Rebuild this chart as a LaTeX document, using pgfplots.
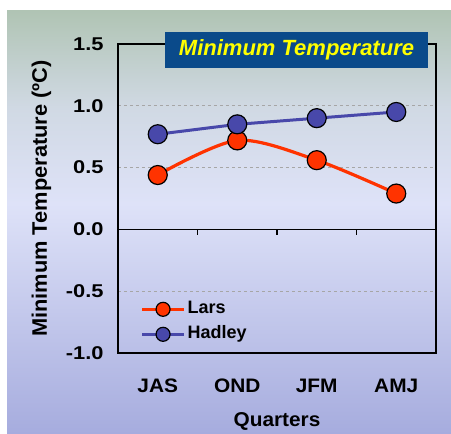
\documentclass[border=0pt]{standalone}
\usepackage{pgfplots}
\pgfplotsset{compat=1.18}
\usepackage{fontspec}
\setmainfont{Liberation Sans}
\newfontfamily\wideA[FakeStretch=1.18]{Liberation Sans}
\newfontfamily\wideB[FakeStretch=1.07]{Liberation Sans}
\newfontfamily\wideC[FakeStretch=1.04]{Liberation Sans}
\definecolor{bgtop}{RGB}{176,196,180}
\definecolor{bgmid}{RGB}{222,226,248}
\definecolor{bgbot}{RGB}{166,172,222}
\definecolor{larsred}{RGB}{255,51,0}
\definecolor{hadblue}{RGB}{72,72,170}
\definecolor{titlebg}{RGB}{10,74,138}
\definecolor{titleyel}{RGB}{255,255,0}
\newcommand{\ordo}{\char"BA\relax}
\newcommand{\yl}[1]{{\wideA\bfseries\fontsize{18.5}{20}\selectfont #1}}
\begin{document}
\begin{tikzpicture}[x=1pt,y=1pt]
\useasboundingbox (0,0) rectangle (451,434);
\shade[top color=bgtop, bottom color=bgmid, middle color=bgmid!70!bgtop] (7,230) rectangle (451,423);
\shade[top color=bgmid, bottom color=bgbot] (7,0) rectangle (451,230.2);
\begin{axis}[
  at={(118pt,81pt)}, anchor=south west,
  scale only axis, width=318pt, height=309pt,
  xmin=-0.5, xmax=3.5, ymin=-1, ymax=1.5,
  axis line style={black, line width=1.2pt},
  xtick={0,1,2,3}, xticklabels={JAS,OND,JFM,AMJ},
  ytick={-1,-0.5,0,0.5,1,1.5},
  yticklabels={\yl{-1.0},\yl{-0.5},\yl{0.0},\yl{0.5},\yl{1.0},\yl{1.5}},
  major tick length=0pt,
  ymajorgrids, grid style={gray!70, dashed, line width=0.6pt},
  yticklabel style={font=\wideA\bfseries\fontsize{18.5}{20}\selectfont, xshift=-11pt},
  xticklabel style={font=\wideB\bfseries\fontsize{19.5}{22}\selectfont, anchor=base, yshift=-40pt},
  /pgf/number format/assume math mode=true,
  xlabel={Quarters}, ylabel={Minimum Temperature (\ordo C)},
  xlabel style={font=\wideC\bfseries\fontsize{20}{22}\selectfont, at={(axis description cs:0.5,-0.2385)}, anchor=base},
  ylabel style={font=\wideC\bfseries\fontsize{21}{22}\selectfont, at={(axis description cs:-0.224,0.5)}, anchor=base, rotate=0},
  legend style={at={(axis description cs:0.07,0.176)}, anchor=north west, draw=none, fill=none,
    font=\bfseries\fontsize{18}{23}\selectfont, row sep=4pt, inner sep=0pt,
    nodes={inner sep=2pt, text height=13pt, text depth=4pt}},
  legend cell align=left,
  legend image code/.code={\draw[#1,mark=none] (0pt,0pt) -- (42pt,0pt);
    \draw[#1,mark size=7pt,only marks] plot coordinates {(21pt,0pt)};},
]
\draw[black, line width=1.2pt] (axis cs:-0.5,0) -- (axis cs:3.5,0);
\draw[black, line width=1.2pt] (axis cs:0.5,0) -- ([yshift=-6pt]axis cs:0.5,0);
\draw[black, line width=1.2pt] (axis cs:1.5,0) -- ([yshift=-6pt]axis cs:1.5,0);
\draw[black, line width=1.2pt] (axis cs:2.5,0) -- ([yshift=-6pt]axis cs:2.5,0);
\addplot[larsred, line width=3.2pt, smooth, tension=0.5, mark=*, mark size=9.5pt,
  mark options={fill=larsred, draw=black, line width=1.2pt}]
  coordinates {(0,0.44) (1,0.72) (2,0.56) (3,0.29)};
\addlegendentry{Lars}
\addplot[hadblue, line width=3pt, mark=*, mark size=9.5pt,
  mark options={fill=hadblue, draw=black, line width=1.2pt}]
  coordinates {(0,0.77) (1,0.85) (2,0.90) (3,0.95)};
\addlegendentry{Hadley}
\end{axis}
\node[fill=titlebg, minimum width=263pt, minimum height=36pt, inner sep=0pt,
  text=titleyel, font=\bfseries\itshape\fontsize{22}{24}\selectfont] at (296.5,384) {Minimum Temperature};
\end{tikzpicture}
\end{document}
